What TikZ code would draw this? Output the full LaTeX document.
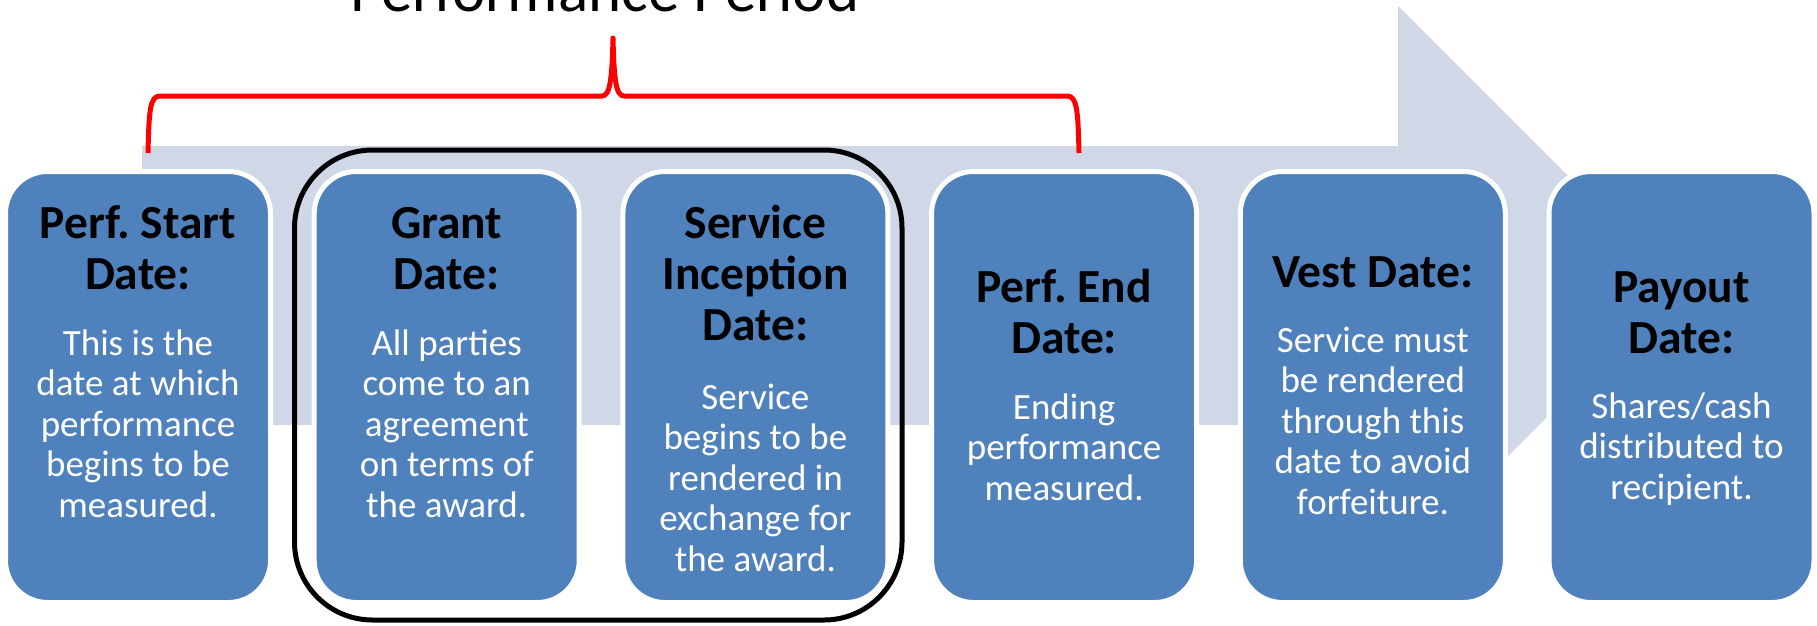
\documentclass[tikz,border=0pt]{standalone}
\usepackage{fontspec}
\setmainfont{Carlito}
\frenchspacing
\definecolor{boxblue}{HTML}{4F81BD}
\definecolor{arrowgray}{HTML}{D0D8E8}
\definecolor{bracketred}{HTML}{FF0000}

% Lines of one stage: #1 name, #2 centre x, #3 first heading baseline,
% #4 heading lines, #5 first description baseline, #6 description lines
\newcommand\stagelines[6]{%
  \foreach \t [count=\k] in {#4}
    {\node[headline] (#1h\k) at (#2,{#3+51*(\k-1)}) {\t};}
  \foreach \t [count=\k] in {#6}
    {\node[bodyline] (#1b\k) at (#2,{#5+40.5*(\k-1)}) {\t};}}

\begin{document}
\begin{tikzpicture}[x=1pt,y=-1pt,
  stage/.style={draw=white, line width=5pt, fill=boxblue, rounded corners=42pt,
    minimum width=265pt, minimum height=431pt, inner sep=0pt},
  headline/.style={anchor=base, inner sep=0pt, text=black,
    font=\fontsize{47.5pt}{51pt}\selectfont\bfseries},
  bodyline/.style={anchor=base, inner sep=0pt, text=white,
    font=\fontsize{37pt}{40.5pt}\selectfont},
  groupframe/.style={draw=black, line width=5pt, rounded corners=78pt,
    minimum width=607.5pt, minimum height=470pt, inner sep=0pt},
  brace/.style={draw=bracketred, line width=5pt, line join=round},
]
\useasboundingbox (0,0) rectangle (1817,625);

% timeline arrow in the background
\fill[arrowgray] (142,146) -- (1398,146) -- (1398,6) -- (1678,286)
  -- (1398,566) -- (1398,425) -- (142,425) -- cycle;

% period title and its brace
\node[anchor=base, inner sep=0pt, font=\fontsize{63pt}{70pt}\selectfont] (title)
  at (604.5,11) {Performance Period};
\draw[brace] (148,153) .. controls (149,110) and (150,96) .. (160,96)
  -- (602,96) .. controls (610,96) and (612,80) .. (613,38)
  .. controls (614,80) and (616,96) .. (624,96)
  -- (1067,96) .. controls (1077,96) and (1078,110) .. (1079,153);

% frame around grant and service inception dates
\node[groupframe] (group) at (598.25,385) {};

% the six stages
\node[stage] (s1) at (138,387) {};
\node[stage] (s2) at (446.7,387) {};
\node[stage] (s3) at (755.4,387) {};
\node[stage] (s4) at (1064.1,387) {};
\node[stage] (s5) at (1372.8,387) {};
\node[stage] (s6) at (1681.5,387) {};

\stagelines{s1}{138}{238}{Perf. Start,Date:}{355}
  {This is the,date at which,performance,begins to be,measured.}
\stagelines{s2}{446.7}{238}{Grant,Date:}{355}
  {All parties,come to an,agreement,on terms of,the award.}
\stagelines{s3}{755.4}{238}{Service,Inception,Date:}{409}
  {Service,begins to be,rendered in,exchange for,the award.}
\stagelines{s4}{1064.1}{302}{Perf. End,Date:}{419}
  {Ending,performance,measured.}
\stagelines{s5}{1372.8}{287}{Vest Date:}{352}
  {Service must,be rendered,through this,date to avoid,forfeiture.}
\stagelines{s6}{1681.5}{302}{Payout,Date:}{418}
  {Shares/cash,distributed to,recipient.}
\end{tikzpicture}
\end{document}
